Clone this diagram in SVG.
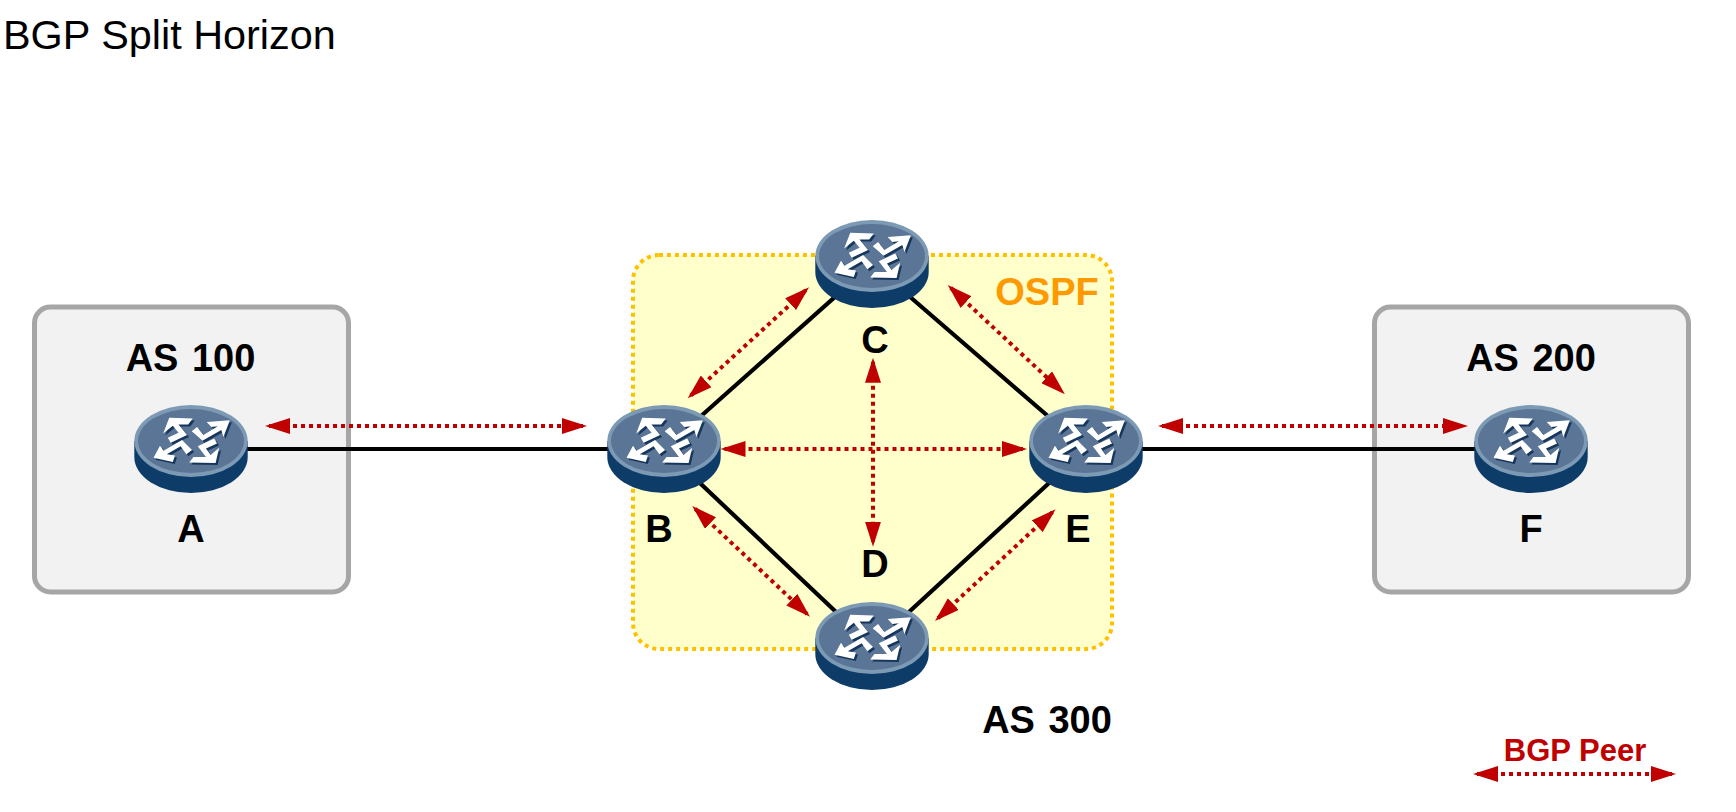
<svg xmlns="http://www.w3.org/2000/svg" xmlns:xlink="http://www.w3.org/1999/xlink" width="1736" height="812" viewBox="0 0 1736 812">
<style>
text{font-family:"Liberation Sans",Arial,sans-serif;font-weight:700;font-size:38px;fill:#000;text-anchor:middle;word-spacing:3px}
.title{font-weight:400;font-size:41.4px;text-anchor:start;word-spacing:0}
.as{fill:#f2f2f2;stroke:#a6a6a6;stroke-width:5}
.ospf{fill:#ffffcc;stroke:#ffc000;stroke-width:4;stroke-dasharray:4 4}
.link{stroke:#000;stroke-width:4.2;fill:none}
.peer{stroke:#c00000;stroke-width:4;stroke-dasharray:4 4;fill:none;marker-start:url(#ah);marker-end:url(#ah)}
</style>
<defs>
<marker id="ah" markerUnits="userSpaceOnUse" markerWidth="26" markerHeight="16" refX="21" refY="8" orient="auto-start-reverse" viewBox="0 0 26 16">
<path d="M0,0 L25,8 L0,16Z" fill="#c00000"/>
</marker>
<g id="glyph" transform="scale(1.07) translate(-41,-31) scale(.3333)">
<polygon points="62,28 128,30 115,47 88,47 112,76 66,98 58,84 88,70 72,50 45,72"/>
<polygon points="232,35 167,40 180,54 198,52 158,76 140,54 125,66 155,92 208,62 214,82"/>
<polygon points="18,140 36,106 46,120 98,90 126,118 110,130 94,108 55,130 78,134 72,152"/>
<polygon points="192,155 118,153 130,138 165,138 142,108 188,86 196,100 165,114 178,132 202,112"/>
</g>
<g id="router">
<path d="M-56.7,0 V16 A56.7,36 0 0 0 56.7,16 V0Z" fill="#0d3c69"/>
<ellipse rx="56.7" ry="36" fill="#7d9ab5"/>
<ellipse rx="53" ry="32" fill="#5b7596"/>
<use xlink:href="#glyph" href="#glyph" x="2" y="2" fill="#16365c"/>
<use xlink:href="#glyph" href="#glyph" fill="#fff"/>
</g>
</defs>
<text class="title" x="3" y="49">BGP Split Horizon</text>
<g id="as100"><rect class="as" x="34.5" y="307" width="314" height="285" rx="16"/><text x="190.5" y="371">AS 100</text></g>
<g id="as200"><rect class="as" x="1374.5" y="307" width="314" height="285" rx="16"/><text x="1531" y="371">AS 200</text></g>
<g id="ospf"><rect class="ospf" x="633" y="255" width="479" height="394" rx="26"/><text x="1047" y="305" style="fill:#ff9900">OSPF</text></g>
<g id="as300"><text x="1047" y="733">AS 300</text></g>
<g id="links">
<line class="link" x1="191" y1="449" x2="664" y2="449"/>
<line class="link" x1="1086" y1="449" x2="1531" y2="449"/>
<line class="link" x1="664" y1="449" x2="872" y2="264"/>
<line class="link" x1="872" y1="264" x2="1086" y2="449"/>
<line class="link" x1="664" y1="449" x2="872" y2="646"/>
<line class="link" x1="872" y1="646" x2="1086" y2="449"/>
</g>
<g id="A"><use xlink:href="#router" href="#router" x="191" y="441"/><text x="191" y="541.5">A</text></g>
<g id="B"><use xlink:href="#router" href="#router" x="664" y="441"/><text x="659" y="541.5">B</text></g>
<g id="C"><use xlink:href="#router" href="#router" x="872" y="256"/><text x="875" y="353">C</text></g>
<g id="D"><use xlink:href="#router" href="#router" x="872" y="638"/><text x="875" y="577">D</text></g>
<g id="E"><use xlink:href="#router" href="#router" x="1086" y="441"/><text x="1078" y="541.5">E</text></g>
<g id="F"><use xlink:href="#router" href="#router" x="1531" y="441"/><text x="1531" y="541.5">F</text></g>
<g id="peers">
<line class="peer" x1="269" y1="426" x2="583" y2="426"/>
<line class="peer" x1="1162" y1="426" x2="1464" y2="426"/>
<line class="peer" x1="724.5" y1="449" x2="1023" y2="449"/>
<line class="peer" x1="873" y1="361.7" x2="873" y2="542.7"/>
<line class="peer" x1="690.7" y1="395.6" x2="806.1" y2="290"/>
<line class="peer" x1="950.7" y1="287.7" x2="1062" y2="391.6"/>
<line class="peer" x1="695.2" y1="508.7" x2="807.1" y2="614"/>
<line class="peer" x1="937.9" y1="618.3" x2="1052.7" y2="512"/>
</g>
<g id="legend">
<text x="1575" y="761" style="fill:#c00000;font-size:31px;word-spacing:0">BGP Peer</text>
<line class="peer" x1="1477" y1="774" x2="1672" y2="774"/>
</g>
</svg>
